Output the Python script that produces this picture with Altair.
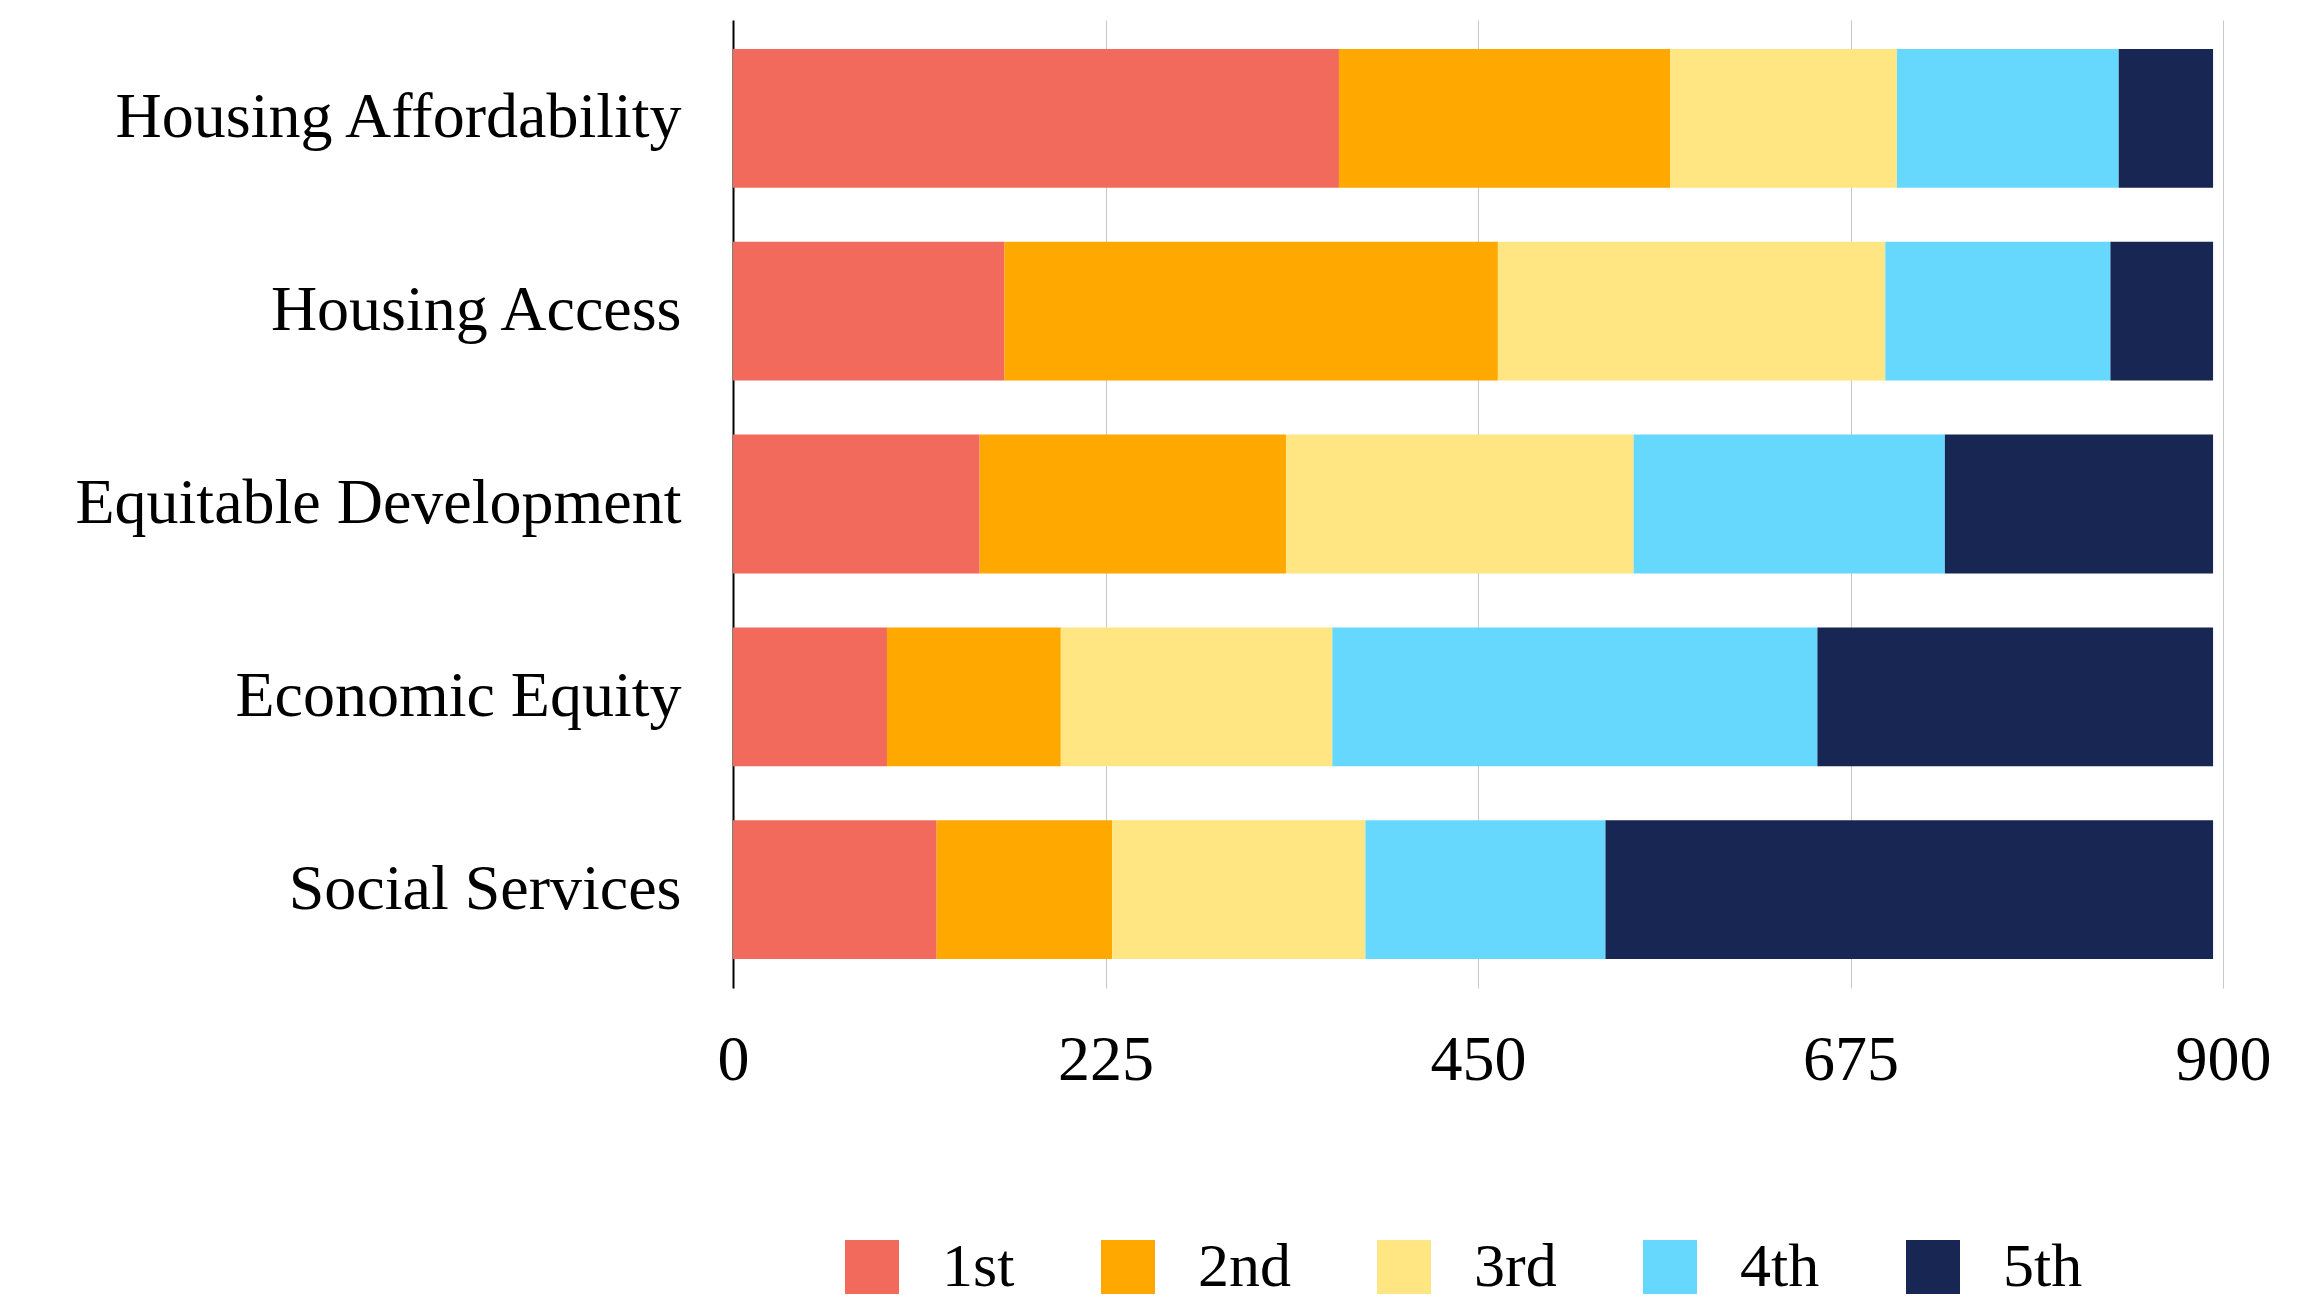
import altair as alt
import pandas as pd

categories = ["Housing Affordability", "Housing Access", "Equitable Development",
              "Economic Equity", "Social Services"]
ranks = ["1st", "2nd", "3rd", "4th", "5th"]
first = [366, 164, 149, 93, 123]
second = [200, 298, 185, 105, 106]
third = [137, 234, 210, 164, 153]
fourth = [134, 136, 188, 293, 145]
fifth = [57, 62, 162, 239, 367]
tick_values = [0, 225, 450, 675, 900]
colors = ["#F16A5B", "#FFA800", "#FFE682", "#67D8FD", "#172652"]

series = [first, second, third, fourth, fifth]
rows = []
for i, c in enumerate(categories):
    for j, r in enumerate(ranks):
        rows.append({"category": c, "rank": r, "order": j, "value": series[j][i]})
df = pd.DataFrame(rows)

FONT = "Liberation Serif"
FS = 64

chart = alt.Chart(df).mark_bar().encode(
    x=alt.X("value:Q", stack="zero",
            scale=alt.Scale(domain=[0, 900], nice=False),
            axis=alt.Axis(values=tick_values, title=None, grid=True, gridColor="#c8c8c8",
                          gridWidth=1, domain=False, ticks=False, labelPadding=40,
                          labelFlush=False, labelFontSize=FS, labelFont=FONT,
                          labelColor="black")),
    y=alt.Y("category:N", sort=categories,
            scale=alt.Scale(paddingInner=0.28, paddingOuter=0.15),
            axis=alt.Axis(title=None, ticks=False, domain=True, domainColor="black",
                          domainWidth=2, labelPadding=52, labelFontSize=FS, labelLimit=0,
                          labelFont=FONT, labelColor="black", grid=False)),
    color=alt.Color("rank:N", scale=alt.Scale(domain=ranks, range=colors),
                    legend=alt.Legend(title=None, orient="none", legendX=108, legendY=1216,
                                      direction="horizontal", symbolType="square",
                                      symbolSize=2916, symbolStrokeWidth=0,
                                      symbolOpacity=1, labelLimit=0,
                                      labelFontSize=62, labelFont=FONT, labelColor="black",
                                      labelOffset=39, columnPadding=82, padding=0)),
    order=alt.Order("order:Q"),
).properties(
    width=1490, height=968,
    padding={"left": 725, "top": 12, "right": 84, "bottom": 310},
    autosize=alt.AutoSizeParams(type="none"),
).configure_view(stroke=None)

chart.save("out.html", embed_options={"renderer": "svg", "actions": False})
